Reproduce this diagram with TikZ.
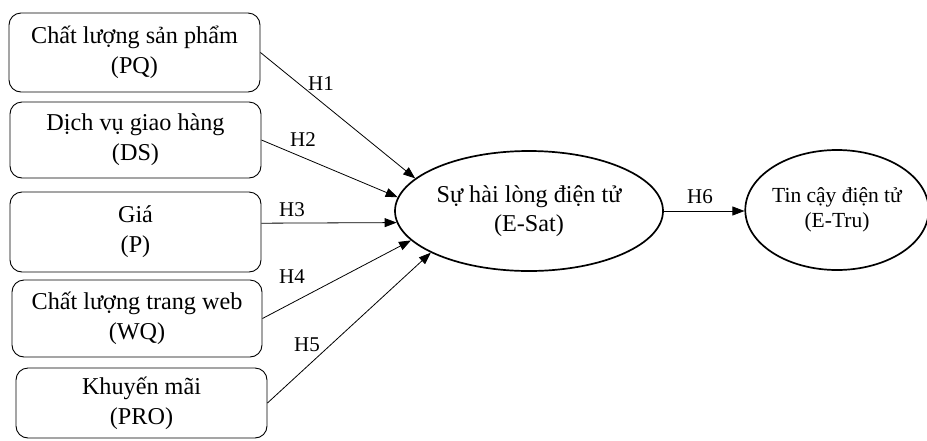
\documentclass[tikz,border=0pt]{standalone}
\usepackage{fontspec}
\setmainfont{Liberation Serif}
\usetikzlibrary{shapes.geometric,arrows.meta}
\begin{document}
\begin{tikzpicture}[x=1pt,y=-1pt,
  factor/.style={draw, line width=0.9pt, rounded corners=12pt, minimum width=251pt, inner sep=0pt, align=center, font=\fontsize{24.2}{30}\selectfont},
  bigell/.style={draw, ellipse, line width=1.7pt, inner sep=0pt, align=center},
  hyp/.style={-{Triangle[length=12pt,width=9pt]}, line width=0.8pt},
  hlab/.style={font=\fontsize{21}{25}\selectfont, inner sep=0pt}]
\useasboundingbox (0,0) rectangle (927,440);
\node[factor, minimum height=79pt] (pq) at (134.5,52.5) {Chất lượng sản phẩm\\(PQ)};
\node[factor, minimum height=76pt] (ds) at (135.5,140) {Dịch vụ giao hàng\\(DS)};
\node[factor, minimum height=80pt] (p) at (135.5,232) {Giá\\(P)};
\node[factor, minimum height=77pt, minimum width=250pt] (wq) at (137,318.5) {Chất lượng trang web\\(WQ)};
\node[factor, minimum height=70pt] (pro) at (141.5,403) {Khuyến mãi\\(PRO)};
\node[bigell, minimum width=268pt, minimum height=120pt, font=\fontsize{24.2}{29}\selectfont] (esat) at (529,211) {Sự hài lòng điện tử\\(E-Sat)};
\node[bigell, minimum width=178pt, minimum height=120pt, font=\fontsize{21.5}{25}\selectfont] (etru) at (837,210) {Tin cậy điện tử\\(E-Tru)};
\draw[hyp] (pq.east) -- (esat.164);
\draw[hyp] (ds.east) -- (esat.174);
\draw[hyp] (p.4) -- (esat.185);
\draw[hyp] (wq.east) -- (esat.194);
\draw[hyp] (pro.east) -- (esat.203.5);
\draw[hyp] (esat.east) -- (esat.east -| etru.west);
\node[hlab] (h1) at (321,84) {H1};
\node[hlab] (h2) at (303,140) {H2};
\node[hlab] (h3) at (292,210) {H3};
\node[hlab] (h4) at (292,277) {H4};
\node[hlab] (h5) at (307,345) {H5};
\node[hlab] (h6) at (700,197) {H6};
\end{tikzpicture}
\end{document}
